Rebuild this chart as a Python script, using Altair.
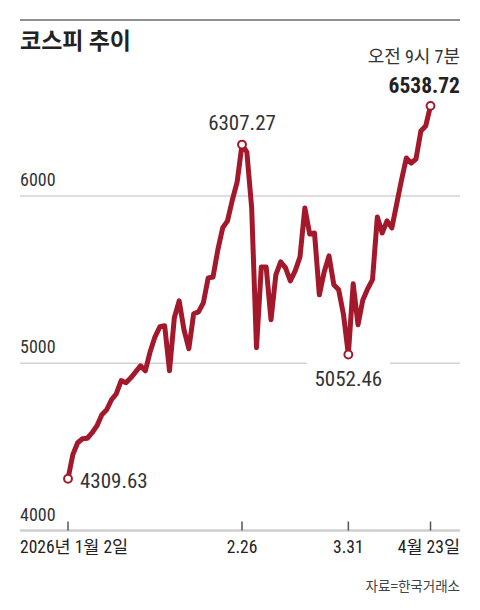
import altair as alt
import pandas as pd

# KOSPI closing values by trading day (index 0 = 2026-01-02, 75 = 2026-04-23)
values = [4309.63, 4454, 4525, 4549, 4552, 4585, 4627, 4693, 4722, 4782,
          4818, 4896, 4884, 4913, 4949, 4985, 4955, 5069, 5158, 5218,
          5224, 4955, 5272, 5373, 5200, 5087, 5296, 5307, 5361, 5510,
          5516, 5678, 5809, 5851, 5976, 6084, 6307.27, 6263, 5928, 5093,
          5576, 5576, 5260, 5528, 5606, 5570, 5493, 5552, 5636, 5928,
          5773, 5779, 5409, 5546, 5642, 5469, 5439, 5290, 5052.46, 5475,
          5230, 5379, 5445, 5500, 5875, 5779, 5851, 5809, 5952, 6096,
          6227, 6197, 6221, 6388, 6418, 6538.72]

tick_index = [0, 36, 58, 75]
tick_labels = ["2026년 1월 2일", "2.26", "3.31", "4월 23일"]
grid_values = [5000, 6000]
ylabel_values = [4000, 5000, 6000]
marked_index = [0, 36, 58, 75]

title_text = "코스피 추이"
time_text = "오전 9시 7분"
source_text = "자료=한국거래소"

RED = "#A3192B"
NUM_FONT = "'Roboto Condensed', Roboto, 'Noto Sans CJK KR'"
KR_FONT = "'Noto Sans CJK KR'"

W, H = 440, 580

df = pd.DataFrame({"i": list(range(len(values))), "v": values})
marks = pd.DataFrame({"i": marked_index, "v": [values[k] for k in marked_index]})
marks["label"] = marks["v"].map(lambda x: f"{x:.2f}")
ticks = pd.DataFrame({"i": tick_index, "label": tick_labels, "v": [4000] * len(tick_index)})

xsc = alt.Scale(domain=[-9.93, 81.1], nice=False, zero=False)
ysc = alt.Scale(domain=[3585, 7052], nice=False, zero=False)
X = alt.X("i:Q", scale=xsc, axis=None)
Y = alt.Y("v:Q", scale=ysc, axis=None)

def sub(k):
    return marks[marks["i"] == k].reset_index(drop=True)

grid = alt.Chart(pd.DataFrame({"v": grid_values})).mark_rule(
    color="#d2d2d2", strokeWidth=1.5
).encode(y=Y, x=alt.value(0), x2=alt.value(W))

base_line = alt.Chart(pd.DataFrame({"v": [4000]})).mark_rule(
    color="#cfcfcf", strokeWidth=2.5
).encode(y=Y, x=alt.value(0), x2=alt.value(W))

tick_marks = alt.Chart(ticks).mark_rule(color="#555555", strokeWidth=1.5).encode(
    x=X, y=Y, y2=alt.value(501.5)
)

gap = alt.Chart(sub(58)).transform_calculate(
    lo="datum.i - 8.6", hi="datum.i + 8.6", vlo="4980", vhi="5020"
).mark_rect(color="white").encode(
    x=alt.X("lo:Q", scale=xsc, axis=None), x2="hi:Q",
    y=alt.Y("vlo:Q", scale=ysc, axis=None), y2="vhi:Q"
)

ylabels = alt.Chart(pd.DataFrame({"v": ylabel_values})).mark_text(
    align="left", baseline="middle", dy=-15, font=NUM_FONT, fontSize=18, color="#333333"
).encode(y=Y, x=alt.value(0), text=alt.Text("v:Q", format="d"))

line = alt.Chart(df).mark_line(
    color=RED, strokeWidth=5, strokeJoin="round", strokeCap="round"
).encode(x=X, y=Y)

pts = alt.Chart(marks).mark_circle(
    fill="white", stroke=RED, strokeWidth=2, size=62, opacity=1
).encode(x=X, y=Y)

lab_first = alt.Chart(sub(0)).mark_text(
    align="left", baseline="middle", dx=12, dy=3, font=NUM_FONT, fontSize=21, color="#333333"
).encode(x=X, y=Y, text="label:N")
lab_peak = alt.Chart(sub(36)).mark_text(
    align="center", baseline="middle", dy=-21, font=NUM_FONT, fontSize=21, color="#333333"
).encode(x=X, y=Y, text="label:N")
lab_low = alt.Chart(sub(58)).mark_text(
    align="center", baseline="middle", dy=25, font=NUM_FONT, fontSize=21, color="#333333"
).encode(x=X, y=Y, text="label:N")

tl = ticks[ticks["i"] == 0].reset_index(drop=True)
tm = ticks[(ticks["i"] != 0) & (ticks["i"] != 75)].reset_index(drop=True)
tr = ticks[ticks["i"] == 75].reset_index(drop=True)

xl_left = alt.Chart(tl).mark_text(
    align="left", baseline="middle", font=NUM_FONT, fontSize=17.5, color="#222222"
).encode(x=alt.value(0), y=alt.value(528), text="label:N")
xl_mid = alt.Chart(tm).mark_text(
    align="center", baseline="middle", font=NUM_FONT, fontSize=17.5, color="#222222"
).encode(x=X, y=alt.value(528), text="label:N")
xl_right = alt.Chart(tr).mark_text(
    align="right", baseline="middle", font=NUM_FONT, fontSize=17.5, color="#222222"
).encode(x=alt.value(W), y=alt.value(528), text="label:N")

top_rule = alt.Chart(pd.DataFrame({"a": [0]})).mark_rule(color="#8f8f8f", strokeWidth=2).encode(
    x=alt.value(0), x2=alt.value(W), y=alt.value(0)
)
title = alt.Chart(pd.DataFrame({"t": [title_text]})).mark_text(
    align="left", baseline="middle", font=KR_FONT, fontSize=23, fontWeight="bold", color="#222222"
).encode(x=alt.value(0), y=alt.value(22), text="t:N")
time_lbl = alt.Chart(pd.DataFrame({"t": [time_text]})).mark_text(
    align="right", baseline="middle", font=NUM_FONT, fontSize=18, color="#333333"
).encode(x=alt.value(W), y=alt.value(38), text="t:N")
last_lbl = alt.Chart(pd.DataFrame({"t": [f"{values[-1]:.2f}"]})).mark_text(
    align="right", baseline="middle", font=NUM_FONT, fontSize=21.5, fontWeight="bold", color="#222222"
).encode(x=alt.value(W), y=alt.value(67), text="t:N")
source = alt.Chart(pd.DataFrame({"t": [source_text]})).mark_text(
    align="right", baseline="middle", font=KR_FONT, fontSize=13.5, color="#444444"
).encode(x=alt.value(W), y=alt.value(567), text="t:N")

chart = alt.layer(
    grid, base_line, tick_marks, gap, ylabels, line, pts,
    lab_first, lab_peak, lab_low, xl_left, xl_mid, xl_right,
    top_rule, title, time_lbl, last_lbl, source
).properties(
    width=W, height=H,
    autosize=alt.AutoSizeParams(type="none"),
    padding={"left": 12, "top": 12, "right": 10, "bottom": 0},
    background="white",
).configure_view(stroke=None)

chart.save("out.html", embed_options={"renderer": "svg", "actions": False})
